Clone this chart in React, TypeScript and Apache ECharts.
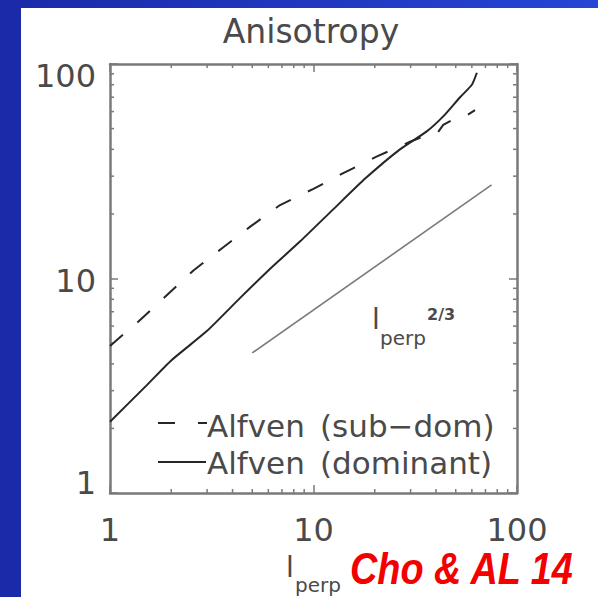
import React, { useEffect, useRef } from "react";
import * as echarts from "echarts";

// Anisotropy vs l_perp (log-log)
const dominantX = [1, 1.5, 2, 3, 4.35, 6, 8.6, 12.5, 18, 26.6, 36, 43.4, 52.5, 60, 63.5];
const dominantY = [2.15, 3.15, 4.15, 5.7, 8.1, 10.9, 14.9, 21, 29.3, 40, 48.5, 57, 70, 80, 91];

const subDomX = [1, 1.38, 1.86, 2.57, 3.54, 4.87, 6.85, 10, 14, 20.4, 29.8, 35.3, 40.5, 43.4, 49.6, 54, 62.2];
const subDomY = [4.85, 6.3, 8.2, 10.9, 13.8, 17.4, 22, 26.2, 31, 37, 43.4, 46.2, 47.5, 52, 55.8, 56, 61];

// l_perp^(2/3) reference slope
const refX = [5, 75];
const refY = [4.5, 27.3];

// minor tick values of the log axes
const minorTickValues = [2, 3, 4, 5, 6, 7, 8, 9, 20, 30, 40, 50, 60, 70, 80, 90];

const FONT = "DejaVu Sans";
const TEXT = "#4a4a4a";
const AXIS = "#7a7a7a";

const zip = (xs: number[], ys: number[]) => xs.map((x, i) => [x, ys[i]]);

export default function App() {
  const ref = useRef<HTMLDivElement>(null);

  useEffect(() => {
    if (!ref.current) return;
    const chart = echarts.init(ref.current, null, { renderer: "svg" });

    const logAxis = {
      type: "log" as const,
      logBase: 10,
      min: 1,
      max: 100,
      splitLine: { show: false },
      axisLine: { show: true, onZero: false, lineStyle: { color: AXIS, width: 2.5 } },
      axisTick: { show: true, inside: true, length: 8, lineStyle: { color: AXIS, width: 1.5 } },
    };

    const tickLine = (x1: number, y1: number, x2: number, y2: number) => ({
      type: "line",
      shape: { x1, y1, x2, y2 },
      style: { stroke: AXIS, lineWidth: 1.5 },
    });

    chart.setOption({
      animation: false,
      backgroundColor: "#ffffff",
      grid: { left: 110, right: 81, top: 64, bottom: 104, outerBoundsMode: "none" },
      xAxis: [
        {
          ...logAxis,
          position: "bottom",
          axisLabel: { fontSize: 32, color: TEXT, fontFamily: FONT, margin: 21 },
        },
        { ...logAxis, position: "top", axisLabel: { show: false } },
      ],
      yAxis: [
        {
          ...logAxis,
          position: "left",
          axisLabel: {
            fontSize: 32,
            color: TEXT,
            fontFamily: FONT,
            margin: 14,
            formatter: (v: number) =>
              v >= 100 ? `{hi|${v}}` : v <= 1 ? `{lo|${v}}` : `{mid|${v}}`,
            rich: {
              hi: { fontSize: 32, color: TEXT, fontFamily: FONT, padding: [24, 0, 0, 0] },
              mid: { fontSize: 32, color: TEXT, fontFamily: FONT, padding: [4, 0, 0, 0] },
              lo: { fontSize: 32, color: TEXT, fontFamily: FONT, padding: [0, 0, 20, 0] },
            },
          },
        },
        { ...logAxis, position: "right", axisLabel: { show: false } },
      ],
      series: [
        {
          name: "Alfven (dominant)",
          type: "line",
          data: zip(dominantX, dominantY),
          showSymbol: false,
          smooth: 0.2,
          lineStyle: { color: "#262626", width: 2 },
        },
        {
          name: "Alfven (sub-dom)",
          type: "line",
          data: zip(subDomX, subDomY),
          showSymbol: false,
          lineStyle: { color: "#262626", width: 2, type: [17, 19] },
        },
        {
          name: "l_perp^(2/3)",
          type: "line",
          data: zip(refX, refY),
          showSymbol: false,
          lineStyle: { color: "#7a7a7a", width: 1.6 },
        },
        {
          // minor ticks on bottom and top axes
          type: "custom",
          silent: true,
          clip: false,
          data: minorTickValues.map((v) => [v, 1]),
          renderItem: (params: any, api: any) => {
            const cs = params.coordSys;
            const px = api.coord([api.value(0), 1])[0];
            const b = cs.y + cs.height;
            return {
              type: "group",
              children: [tickLine(px, b, px, b - 4), tickLine(px, cs.y, px, cs.y + 4)],
            };
          },
        },
        {
          // minor ticks on left and right axes
          type: "custom",
          silent: true,
          clip: false,
          data: minorTickValues.map((v) => [1, v]),
          renderItem: (params: any, api: any) => {
            const cs = params.coordSys;
            const py = api.coord([1, api.value(1)])[1];
            const r = cs.x + cs.width;
            return {
              type: "group",
              children: [tickLine(cs.x, py, cs.x + 4, py), tickLine(r, py, r - 4, py)],
            };
          },
        },
      ],
      graphic: [
        // blue slide frame
        {
          type: "rect",
          shape: { x: 0, y: 0, width: 598, height: 8 },
          style: {
            fill: new echarts.graphic.LinearGradient(0, 0, 1, 0, [
              { offset: 0, color: "#1a2aa8" },
              { offset: 1, color: "#2545d6" },
            ]),
          },
        },
        {
          type: "rect",
          shape: { x: 0, y: 0, width: 21, height: 597 },
          style: { fill: "#1a2aa8" },
        },
        // title
        {
          type: "text",
          x: 311,
          y: 31,
          style: {
            text: "Anisotropy",
            fontSize: 33,
            fontFamily: FONT,
            fill: TEXT,
            align: "center",
            verticalAlign: "middle",
          },
        },
        // legend
        {
          type: "line",
          shape: { x1: 158, y1: 423, x2: 207, y2: 423 },
          style: { stroke: "#262626", lineWidth: 2, lineDash: [17, 23] },
        },
        {
          type: "line",
          shape: { x1: 158, y1: 462, x2: 206, y2: 462 },
          style: { stroke: "#262626", lineWidth: 2 },
        },
        {
          type: "text",
          x: 207,
          y: 426,
          style: { text: "Alfven", fontSize: 31, fontFamily: FONT, fill: TEXT, align: "left", verticalAlign: "middle" },
        },
        {
          type: "text",
          x: 320,
          y: 426,
          style: { text: "(sub\u2212dom)", fontSize: 31, fontFamily: FONT, fill: TEXT, align: "left", verticalAlign: "middle" },
        },
        {
          type: "text",
          x: 207,
          y: 463,
          style: { text: "Alfven", fontSize: 31, fontFamily: FONT, fill: TEXT, align: "left", verticalAlign: "middle" },
        },
        {
          type: "text",
          x: 320,
          y: 463,
          style: { text: "(dominant)", fontSize: 31, fontFamily: FONT, fill: TEXT, align: "left", verticalAlign: "middle" },
        },
        // slope annotation l_perp^{2/3}
        {
          type: "text",
          x: 372,
          y: 333,
          style: { text: "l", fontSize: 28, fontFamily: FONT, fill: TEXT, align: "left", verticalAlign: "bottom" },
        },
        {
          type: "text",
          x: 380,
          y: 338,
          style: { text: "perp", fontSize: 20, fontFamily: FONT, fill: TEXT, align: "left", verticalAlign: "middle" },
        },
        {
          type: "text",
          x: 427,
          y: 314,
          style: { text: "2/3", fontSize: 16, fontWeight: "bold", fontFamily: FONT, fill: TEXT, align: "left", verticalAlign: "middle" },
        },
        // x-axis name
        {
          type: "text",
          x: 286,
          y: 581,
          style: { text: "l", fontSize: 28, fontFamily: FONT, fill: TEXT, align: "left", verticalAlign: "bottom" },
        },
        {
          type: "text",
          x: 295,
          y: 585,
          style: { text: "perp", fontSize: 20, fontFamily: FONT, fill: TEXT, align: "left", verticalAlign: "middle" },
        },
        // citation
        {
          type: "text",
          x: 350,
          y: 569,
          scaleX: 0.86,
          style: {
            text: "Cho & AL 14",
            fontSize: 44,
            fontWeight: "bold",
            fontStyle: "italic",
            fontFamily: "Liberation Sans",
            fill: "#f40000",
            align: "left",
            verticalAlign: "middle",
          },
        },
      ],
    } as any);

    return () => chart.dispose();
  }, []);

  return (
    <div
      ref={ref}
      style={{ position: "fixed", left: 0, top: 0, width: 598, height: 597 }}
    />
  );
}
